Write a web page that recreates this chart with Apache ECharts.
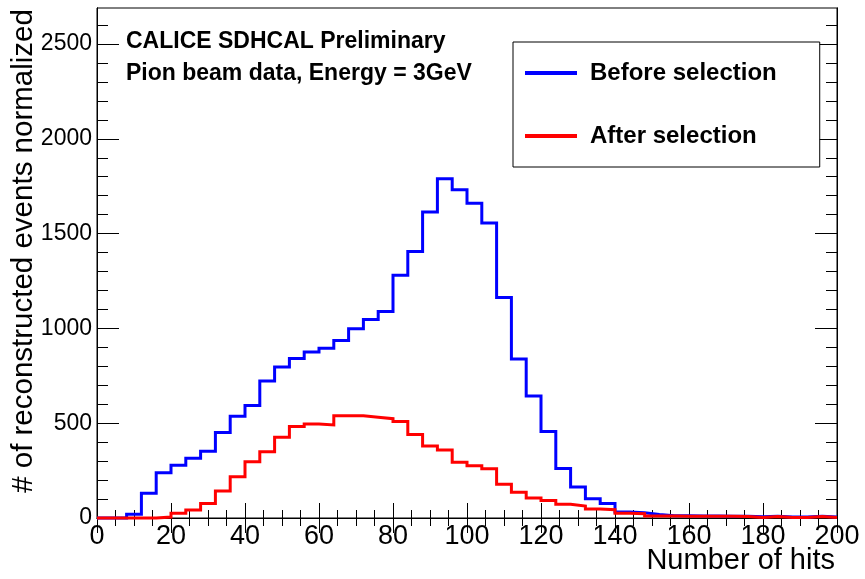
<!DOCTYPE html>
<html>
<head>
<meta charset="utf-8">
<script src="https://cdn.jsdelivr.net/npm/echarts@6/dist/echarts.min.js"></script>
<style>
  html, body { margin: 0; padding: 0; background: #fff; }
  #chart { width: 865px; height: 579px; }
</style>
</head>
<body>
<div id="chart"></div>
<script>
// Histogram of hit multiplicity, 4-hit bins from 0 to 200
const binLowEdges = [
  0, 4, 8, 12, 16, 20, 24, 28, 32, 36,
  40, 44, 48, 52, 56, 60, 64, 68, 72, 76,
  80, 84, 88, 92, 96, 100, 104, 108, 112, 116,
  120, 124, 128, 132, 136, 140, 144, 148, 152, 156,
  160, 164, 168, 172, 176, 180, 184, 188, 192, 196
];
const beforeSelection = [
  0, 0, 20, 130, 239, 278, 315, 352, 451, 537,
  593, 723, 796, 841, 875, 896, 936, 998, 1047, 1089,
  1280, 1405, 1614, 1790, 1732, 1660, 1556, 1163, 838, 644,
  456, 261, 163, 101, 77, 32, 28, 18, 12, 12,
  10, 10, 9, 9, 6, 9, 5, 5, 9, 5
];
const afterSelection = [
  0, 0, 0, 0, 5, 25, 42, 77, 143, 218,
  297, 350, 426, 482, 496, 491, 539, 539, 532, 524,
  509, 440, 380, 359, 294, 275, 260, 178, 136, 106,
  92, 72, 63, 47, 44, 25, 23, 11, 10, 9,
  9, 9, 9, 8, 3, 8, 3, 3, 8, 3
];
const seriesNames = ['Before selection', 'After selection'];
const seriesColors = ['#0000ff', '#ff0000'];

const xMin = 0;
const xMax = 200;
const xMajorStep = 20;
const yMax = 2690;
const yMajorTicks = [0, 500, 1000, 1500, 2000, 2500];
const yMinorTicks = [100, 200, 300, 400, 600, 700, 800, 900, 1100, 1200, 1300, 1400,
  1600, 1700, 1800, 1900, 2100, 2200, 2300, 2400, 2600];

const xTitle = 'Number of hits';
const yTitle = '# of reconstructed events normalized';
const annotationLines = ['CALICE SDHCAL Preliminary', 'Pion beam data, Energy = 3GeV'];

const FONT = '"Liberation Sans", Arial, Helvetica, sans-serif';

// Outline points: each bin's low edge plus the final upper edge
function stepPoints(values) {
  const pts = binLowEdges.map((x, i) => [x, values[i]]);
  pts.push([xMax, values[values.length - 1]]);
  return pts;
}

const plainNumber = v => String(v);

function xAxisDef(position, showLabels) {
  return {
    type: 'value', position: position, min: xMin, max: xMax, interval: xMajorStep,
    axisLine: { show: true, lineStyle: { color: '#000', width: 1 } },
    axisTick: { show: true, inside: true, length: 15, lineStyle: { color: '#000', width: 1 } },
    minorTick: { show: true, splitNumber: 4, length: 8, lineStyle: { color: '#000', width: 1 } },
    axisLabel: { show: showLabels, color: '#000', fontFamily: FONT, fontSize: 27, margin: 5,
      formatter: plainNumber },
    splitLine: { show: false }, minorSplitLine: { show: false }
  };
}

function yAxisDef(position, ticks, len, showLabels) {
  return {
    type: 'value', position: position, min: 0, max: yMax,
    axisLine: { show: true, lineStyle: { color: '#000', width: 1 } },
    axisTick: { show: true, inside: true, length: len, customValues: ticks,
      lineStyle: { color: '#000', width: 1 } },
    axisLabel: { show: showLabels, customValues: ticks, color: '#000', fontFamily: FONT,
      fontSize: 23, margin: 5, formatter: plainNumber },
    splitLine: { show: false }
  };
}

const chart = echarts.init(document.getElementById('chart'), null, { renderer: 'canvas' });

chart.setOption({
  animation: false,
  backgroundColor: '#fff',
  grid: { left: 97, right: 28, top: 8, bottom: 61, show: true,
    borderColor: '#000', borderWidth: 1, backgroundColor: 'transparent' },
  xAxis: [xAxisDef('bottom', true), xAxisDef('top', false)],
  yAxis: [
    yAxisDef('left', yMajorTicks, 22, true),
    yAxisDef('left', yMinorTicks, 11, false),
    yAxisDef('right', yMajorTicks, 22, false),
    yAxisDef('right', yMinorTicks, 11, false)
  ],
  legend: {
    orient: 'vertical', left: 513, top: 42,
    padding: [17, 43, 17, 12], itemGap: 35,
    itemWidth: 52, itemHeight: 4, icon: 'rect',
    borderColor: '#000', borderWidth: 1, backgroundColor: '#fff',
    textStyle: { fontFamily: FONT, fontWeight: 'bold', fontSize: 24, lineHeight: 28,
      color: '#000', padding: [0, 0, 0, 8] },
    data: seriesNames
  },
  series: [beforeSelection, afterSelection].map((vals, i) => ({
    name: seriesNames[i], type: 'line', step: 'end',
    xAxisIndex: 0, yAxisIndex: 0,
    data: stepPoints(vals), showSymbol: false, symbol: 'none', clip: false,
    color: seriesColors[i],
    lineStyle: { color: seriesColors[i], width: 3, join: 'miter', cap: 'butt' },
    z: 3 + i
  })),
  graphic: [
    { type: 'text', x: 24, y: 251, rotation: Math.PI / 2,
      style: { text: yTitle, fontFamily: FONT, fontSize: 29.5, fill: '#000',
        align: 'center', verticalAlign: 'middle' } },
    { type: 'text', x: 835, y: 561,
      style: { text: xTitle, fontFamily: FONT, fontSize: 29, fill: '#000',
        align: 'right', verticalAlign: 'middle' } },
    { type: 'text', x: 126, y: 42,
      style: { text: annotationLines[0], fontFamily: FONT, fontWeight: 'bold', fontSize: 23,
        fill: '#000', align: 'left', verticalAlign: 'middle' } },
    { type: 'text', x: 126, y: 74,
      style: { text: annotationLines[1], fontFamily: FONT, fontWeight: 'bold', fontSize: 23,
        fill: '#000', align: 'left', verticalAlign: 'middle' } }
  ]
});
</script>
</body>
</html>
